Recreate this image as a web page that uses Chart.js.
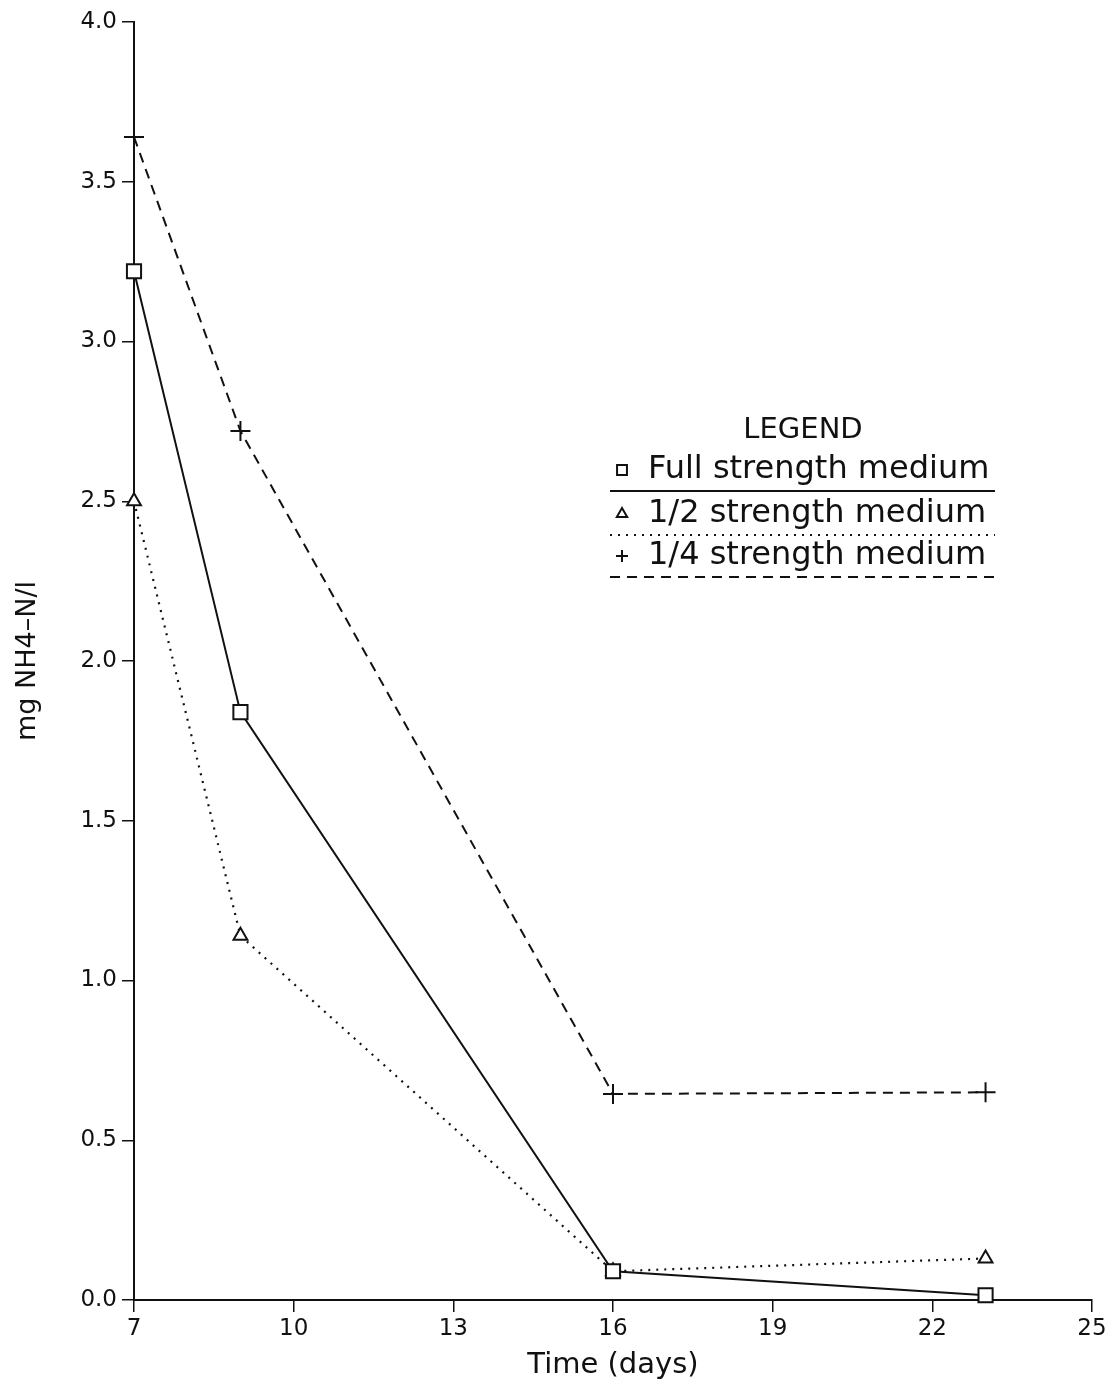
<!DOCTYPE html>
<html>
<head>
<meta charset="utf-8">
<script src="https://cdn.jsdelivr.net/npm/chart.js@4.4.0/dist/chart.umd.min.js"></script>
<style>
  html, body { margin: 0; padding: 0; background: #fff; }
  #wrap { width: 1113px; height: 1387px; position: relative; }
</style>
</head>
<body>
<div id="wrap"><canvas id="nh4Chart"></canvas></div>
<script>
// sampling days and NH4-N concentrations (mg/l)
const days = [7, 9, 16, 23];
const fullStrength = [3.22, 1.84, 0.09, 0.015];
const halfStrength = [2.50, 1.14, 0.09, 0.13];
const quarterStrength = [3.64, 2.72, 0.645, 0.65];
const xTicks = [7, 10, 13, 16, 19, 22, 25];
const yTicks = [0, 0.5, 1.0, 1.5, 2.0, 2.5, 3.0, 3.5, 4.0];
const seriesNames = ['Full strength medium', '1/2 strength medium', '1/4 strength medium'];

const FONT = '"DejaVu Sans", sans-serif';

function toPoints(values) {
  return days.map((d, i) => ({ x: d, y: values[i] }));
}

const seriesStyle = [
  { data: fullStrength, pointStyle: 'rect', radius: 10, dash: [], width: 2 },
  { data: halfStrength, pointStyle: 'triangle', radius: 8, dash: [2, 6], width: 2.2 },
  { data: quarterStrength, pointStyle: 'cross', radius: 10, dash: [10, 7], width: 2 }
];

// boxed legend drawn to the right of the curves
const legendBox = {
  id: 'legendBox',
  afterDraw(chart) {
    const ctx = chart.ctx;
    ctx.save();
    ctx.strokeStyle = '#111';
    ctx.textBaseline = 'middle';
    ctx.fillStyle = '#111';
    ctx.font = '29px ' + FONT;
    ctx.textAlign = 'center';
    ctx.fillText('LEGEND', 803, 430);
    ctx.textAlign = 'left';
    ctx.font = '32px ' + FONT;
    const rows = [470, 514, 556];
    seriesStyle.forEach((s, i) => {
      const y = rows[i];
      ctx.fillStyle = '#fff';
      ctx.lineWidth = 2;
      Chart.helpers.drawPoint(ctx, {
        pointStyle: s.pointStyle,
        radius: s.pointStyle === 'rect' ? 7 : 6,
        borderWidth: 2,
        rotation: 0
      }, 622, y);
      ctx.fillStyle = '#111';
      ctx.fillText(seriesNames[i], 648, y);
      ctx.beginPath();
      ctx.lineWidth = s.width;
      ctx.setLineDash(s.dash);
      ctx.moveTo(610, y + 21);
      ctx.lineTo(995, y + 21);
      ctx.stroke();
      ctx.setLineDash([]);
    });
    ctx.restore();
  }
};

new Chart(document.getElementById('nh4Chart'), {
  type: 'scatter',
  data: {
    datasets: seriesStyle.map((s, i) => ({
      label: seriesNames[i],
      data: toPoints(s.data),
      showLine: true,
      clip: false,
      borderColor: '#111',
      backgroundColor: 'rgba(0,0,0,0)',
      borderWidth: s.width,
      borderDash: s.dash,
      pointStyle: s.pointStyle,
      pointRadius: s.radius,
      pointBorderWidth: 2,
      pointBorderColor: '#111',
      pointBackgroundColor: '#fff',
      tension: 0
    }))
  },
  options: {
    responsive: true,
    maintainAspectRatio: false,
    animation: false,
    layout: { padding: { top: 22, right: 21, left: 0, bottom: 0 } },
    plugins: {
      legend: { display: false },
      tooltip: { enabled: false }
    },
    scales: {
      x: {
        type: 'linear',
        min: 7,
        max: 25,
        afterBuildTicks: (scale) => { scale.ticks = xTicks.map(v => ({ value: v })); },
        afterFit: (scale) => { scale.height = 87; },
        grid: { drawOnChartArea: false, drawTicks: true, tickLength: 12, color: '#111', lineWidth: 1.5 },
        border: { display: true, color: '#111', width: 2 },
        ticks: { color: '#111', font: { family: FONT, size: 23 }, padding: 3, maxRotation: 0 },
        title: { display: true, text: 'Time (days)', color: '#111', font: { family: FONT, size: 29 }, padding: { top: 0 } }
      },
      y: {
        type: 'linear',
        min: 0,
        max: 4,
        afterBuildTicks: (scale) => { scale.ticks = yTicks.map(v => ({ value: v })); },
        afterFit: (scale) => { scale.width = 134; },
        grid: { drawOnChartArea: false, drawTicks: true, tickLength: 12, color: '#111', lineWidth: 1.5 },
        border: { display: true, color: '#111', width: 2 },
        ticks: { color: '#111', font: { family: FONT, size: 23 }, padding: 5, callback: (v) => v.toFixed(1) },
        title: { display: true, text: 'mg NH4–N/l', color: '#111', font: { family: FONT, size: 27 }, padding: { top: 12, bottom: 0 } }
      }
    }
  },
  plugins: [legendBox]
});
</script>
</body>
</html>
